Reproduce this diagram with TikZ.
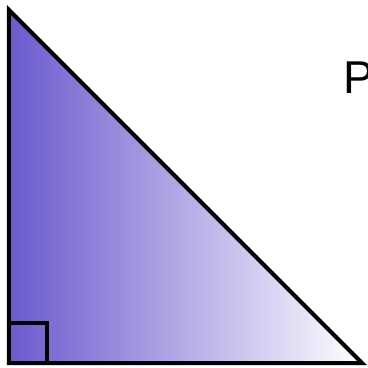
\documentclass[tikz,border=0pt]{standalone}
\usepackage{fontspec}
\setmainfont{Liberation Sans}
\definecolor{tri}{RGB}{106,90,205}
\tikzset{edge/.style={line width=4pt, line join=miter, draw=black}}
\begin{document}
\begin{tikzpicture}[x=1pt,y=1pt]
\useasboundingbox (0,0) rectangle (368,368);
\coordinate (A) at (9,358);
\coordinate (B) at (9,5);
\coordinate (C) at (362,5);
\shade[left color=tri, right color=white] (A) -- (B) -- (C) -- cycle;
\draw[edge] (A) -- (B) -- (C) -- cycle;
\draw[line width=4pt] (9,45) -- (47,45) -- (47,5);
\node[anchor=base west, inner sep=0pt, font=\fontsize{46}{50}\selectfont] (P) at (343,275) {P};
\end{tikzpicture}
\end{document}
